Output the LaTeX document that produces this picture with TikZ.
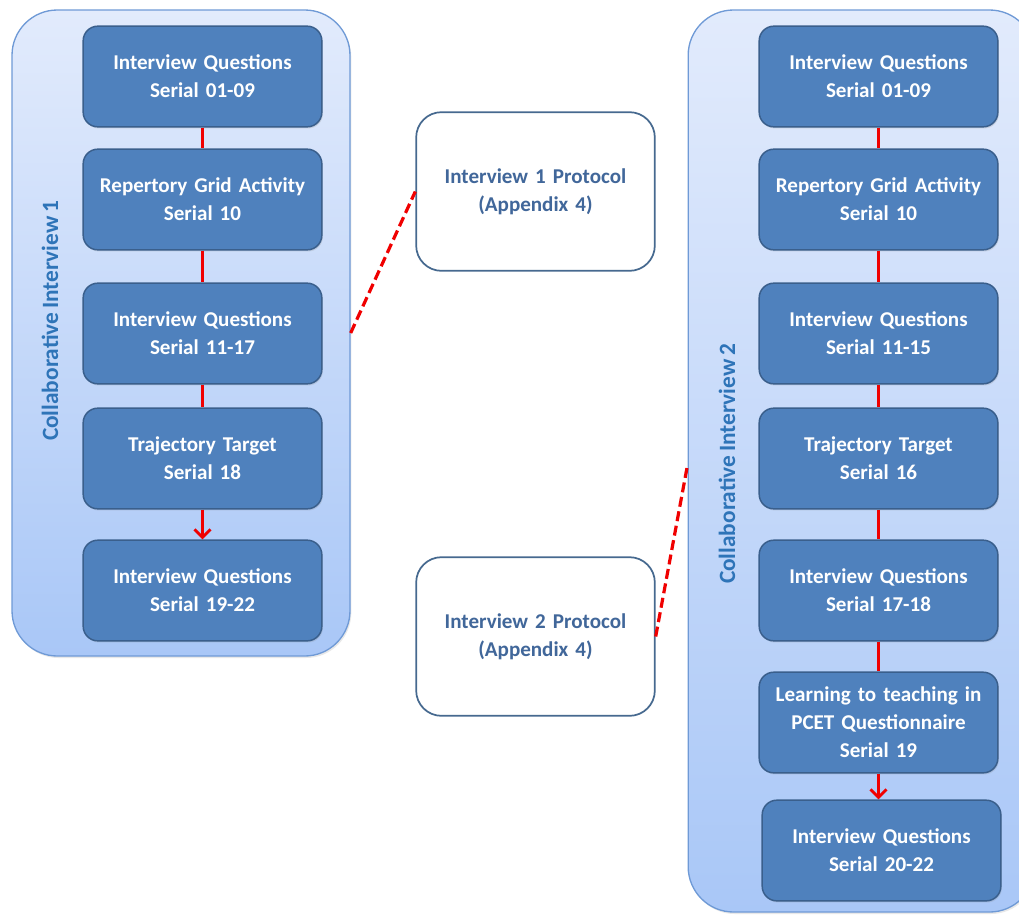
\documentclass[tikz,border=0pt]{standalone}
\usepackage{fontspec}
\setmainfont{Carlito}[WordSpace=0.7]
\usetikzlibrary{arrows.meta,shadows}

\definecolor{stepfill}{HTML}{4F81BD}
\definecolor{stepline}{HTML}{3A5F8C}
\definecolor{grouptop}{HTML}{E2EBFC}
\definecolor{groupbottom}{HTML}{A9C7F7}
\definecolor{groupline}{HTML}{6F9AD6}
\definecolor{grouptext}{HTML}{2E74B8}
\definecolor{prototext}{HTML}{41679A}
\definecolor{protoline}{HTML}{46698F}
\definecolor{linkred}{HTML}{F00000}

\tikzset{
  group/.style={draw=groupline, line width=1pt, top color=grouptop,
    bottom color=groupbottom, rounded corners=34pt, inner sep=0pt,
    drop shadow={opacity=0.18, shadow xshift=1pt, shadow yshift=-1.5pt}},
  grouplabel/.style={rotate=90, text=grouptext, font=\bfseries\fontsize{17.5}{20}\selectfont},
  stepbox/.style={draw=stepline, line width=1.1pt, fill=stepfill, rounded corners=11pt,
    minimum width=179pt, minimum height=75.5pt, text width=175pt, align=center,
    text=white, font=\bfseries\fontsize{15.8}{21}\selectfont, inner sep=0pt,
    drop shadow={opacity=0.22, shadow xshift=0.8pt, shadow yshift=-1.2pt}},
  protobox/.style={draw=protoline, line width=1.3pt, fill=white, rounded corners=19pt,
    minimum width=179pt, minimum height=119pt, text width=175pt, align=center,
    text=prototext, font=\bfseries\fontsize{15.8}{21}\selectfont, inner sep=0pt},
  link/.style={draw=linkred, line width=2.4pt},
  linkarrow/.style={link, -{Straight Barb[length=6pt,width=12pt,line width=2.2pt]}},
  dashlink/.style={draw=linkred, line width=2.4pt, dash pattern=on 7.5pt off 3.5pt}
}

\begin{document}
\begin{tikzpicture}[x=0.75pt, y=-0.75pt]
\useasboundingbox (0,0) rectangle (1019,914);
\clip (0,0) rectangle (1019,914);

% the two interview containers
\node[group, minimum width=253.5pt, minimum height=484.5pt] (c1) at (181,333) {};
\node[group, minimum width=260pt, minimum height=676.5pt] (c2) at (861.5,461) {};

\node[grouplabel] (l1) at (50,321) {Collaborative Interview 1};
\node[grouplabel] (l2) at (727,464) {Collaborative Interview 2};

% first interview
\node[stepbox] (a1) at (202.5,76.5)  {Interview Questions\\Serial 01-09};
\node[stepbox] (a2) at (202.5,199.5) {Repertory Grid Activity\\Serial 10};
\node[stepbox] (a3) at (202.5,333.5) {Interview Questions\\Serial 11-17};
\node[stepbox] (a4) at (202.5,458.5) {Trajectory Target\\Serial 18};
\node[stepbox] (a5) at (202.5,590.5) {Interview Questions\\Serial 19-22};

% second interview
\node[stepbox] (b1) at (878.5,76.5)  {Interview Questions\\Serial 01-09};
\node[stepbox] (b2) at (878.5,199.5) {Repertory Grid Activity\\Serial 10};
\node[stepbox] (b3) at (878.5,333.5) {Interview Questions\\Serial 11-15};
\node[stepbox] (b4) at (878.5,458.5) {Trajectory Target\\Serial 16};
\node[stepbox] (b5) at (878.5,590.5) {Interview Questions\\Serial 17-18};
\node[stepbox] (b6) at (878.5,722.5) {Learning to teaching in\\PCET Questionnaire\\Serial 19};
\node[stepbox] (b7) at (881.5,850.5) {Interview Questions\\Serial 20-22};

% protocol boxes
\node[protobox] (p1) at (535.5,191.5) {Interview 1 Protocol\\(Appendix 4)};
\node[protobox] (p2) at (535.5,636.5) {Interview 2 Protocol\\(Appendix 4)};

% sequence links
\draw[link] (a1) -- (a2);
\draw[link] (a2) -- (a3);
\draw[link] (a3) -- (a4);
\draw[linkarrow] (a4) -- (a5);

\draw[link] (b1) -- (b2);
\draw[link] (b2) -- (b3);
\draw[link] (b3) -- (b4);
\draw[link] (b4) -- (b5);
\draw[link] (b5) -- (b6);
\draw[linkarrow] (b6.south) -- (b6.south |- b7.north);

% protocol references
\draw[dashlink] (c1.east) -- (p1.west);
\draw[dashlink] (p2.east) -- ([yshift=-3pt]c2.west);
\end{tikzpicture}
\end{document}
